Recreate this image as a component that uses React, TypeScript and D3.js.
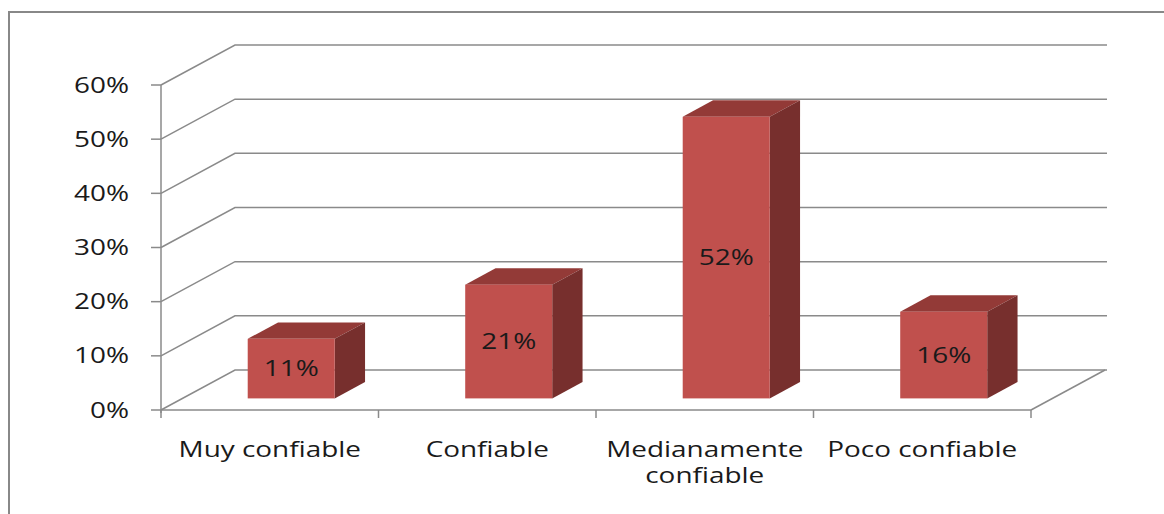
import React from "react";
import * as d3 from "d3";

const categories: string[][] = [["Muy confiable"], ["Confiable"], ["Medianamente", "confiable"], ["Poco confiable"]];
const values: number[] = [0.11, 0.21, 0.52, 0.16];
const valueLabels: string[] = ["11%", "21%", "52%", "16%"];
const yTicks: number[] = [0, 0.1, 0.2, 0.3, 0.4, 0.5, 0.6];

const W = 1164, H = 514;
const x0 = 161, x1 = 1031, yBase = 410, yTop = 85;
const DX = 74, DY = -40; // depth vector
const f1 = 0.29, f2 = 0.70;
const SX = 1.33;
const FONT = "'Open Sans', 'Liberation Sans', sans-serif";
const GRID = "#8a8a8a";

export default function App() {
  const y = d3.scaleLinear().domain([0, 0.6]).range([yBase, yTop]);
  const xb = d3.scaleBand<number>().domain(d3.range(categories.length)).range([x0, x1]).padding(0);
  const bw = xb.bandwidth();
  const barW = bw * 0.4;
  const fmt = d3.format(".0%");

  const T = (x: number, yy: number, txt: string, anchor: string, key?: any, fill = "#1a1a1a") => (
    <g key={key} transform={`translate(${x},${yy}) scale(${SX},1)`}>
      <text x={0} y={0} textAnchor={anchor} fontFamily={FONT} fontSize={21} fill={fill}>{txt}</text>
    </g>
  );

  return (
    <svg width={W} height={H} style={{ position: "absolute", left: 0, top: 0, background: "#fff" }}>
      <rect x={9} y={12} width={1300} height={600} fill="#fff" stroke="#888" strokeWidth={2} />
      {yTicks.map((t) => {
        const yy = y(t);
        return (
          <g key={"g" + t}>
            <polyline points={`${x0},${yy} ${x0 + DX},${yy + DY} ${1107},${yy + DY}`} fill="none" stroke={GRID} strokeWidth={1.5} />
            <line x1={x0 - 10} x2={x0} y1={yy} y2={yy} stroke={GRID} strokeWidth={1.5} />
            {T(x0 - 32, yy + 7.5, fmt(t), "end", "t" + t)}
          </g>
        );
      })}
      <line x1={x0} x2={x1} y1={yBase} y2={yBase} stroke={GRID} strokeWidth={1.5} />
      <line x1={x1} x2={x1 + DX} y1={yBase} y2={yBase + DY} stroke={GRID} strokeWidth={1.5} />
      <line x1={x0} x2={x0} y1={yTop} y2={yBase + 3} stroke={GRID} strokeWidth={1.5} />
      {d3.range(categories.length + 1).map((i) => {
        const xx = x0 + i * bw;
        return <line key={"ct" + i} x1={xx} x2={xx} y1={yBase} y2={yBase + 8} stroke={GRID} strokeWidth={1.5} />;
      })}
      {values.map((v, i) => {
        const cx = (xb(i) as number) + bw / 2;
        const fx = cx - barW / 2 + f1 * DX;
        const fy0 = yBase + f1 * DY;
        const fyT = y(v) + f1 * DY;
        const ddx = (f2 - f1) * DX, ddy = (f2 - f1) * DY;
        return (
          <g key={"b" + i}>
            <polygon points={`${fx},${fyT} ${fx + ddx},${fyT + ddy} ${fx + barW + ddx},${fyT + ddy} ${fx + barW},${fyT}`} fill="#933a37" />
            <polygon points={`${fx + barW},${fyT} ${fx + barW + ddx},${fyT + ddy} ${fx + barW + ddx},${fy0 + ddy} ${fx + barW},${fy0}`} fill="#772f2d" />
            <rect x={fx} y={fyT} width={barW} height={fy0 - fyT} fill="#c0504d" />
            {T(fx + barW / 2, (fyT + fy0) / 2 + 7.5, valueLabels[i], "middle", "v" + i)}
          </g>
        );
      })}
      {categories.map((lines, i) => {
        const cx = (xb(i) as number) + bw / 2;
        return lines.map((ln, j) => T(cx, 457 + j * 26, ln, "middle", `c${i}-${j}`));
      })}
    </svg>
  );
}
